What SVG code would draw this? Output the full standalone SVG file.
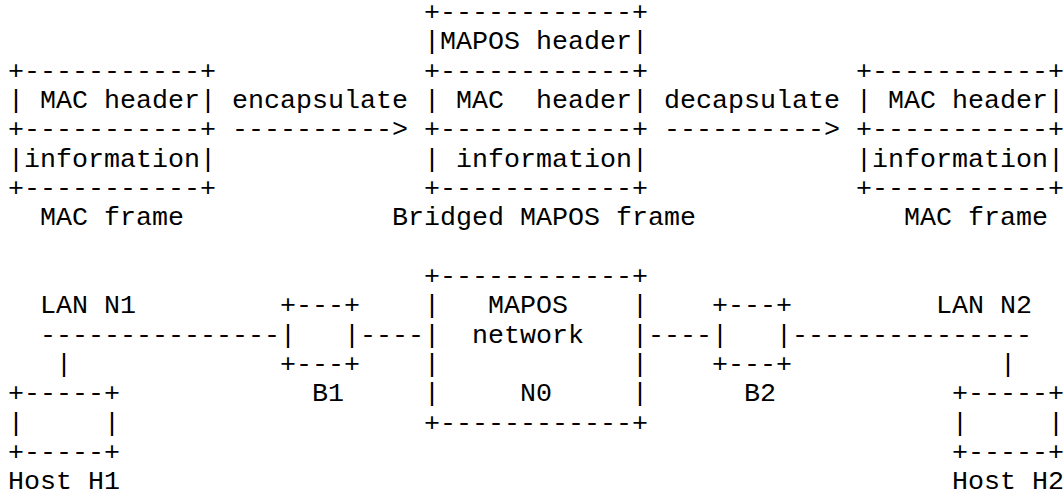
<svg xmlns="http://www.w3.org/2000/svg" width="1063" height="494" viewBox="0 0 1063 494">
<style>
text{font-family:"Liberation Mono","Courier New",monospace;font-size:26.667px;fill:#000;white-space:pre}
</style>
<rect width="1063" height="494" fill="#fff"/>
<g id="mac-frame-left">
<text x="8" y="78.67" xml:space="preserve">+-----------+</text>
<text x="8" y="108" xml:space="preserve">| MAC header|</text>
<text x="8" y="137.33" xml:space="preserve">+-----------+</text>
<text x="8" y="166.67" xml:space="preserve">|information|</text>
<text x="8" y="196" xml:space="preserve">+-----------+</text>
<text x="40" y="225.33" xml:space="preserve">MAC frame</text>
</g>
<g id="bridged-mapos-frame">
<text x="424" y="20" xml:space="preserve">+------------+</text>
<text x="424" y="49.33" xml:space="preserve">|MAPOS header|</text>
<text x="424" y="78.67" xml:space="preserve">+------------+</text>
<text x="424" y="108" xml:space="preserve">| MAC  header|</text>
<text x="424" y="137.33" xml:space="preserve">+------------+</text>
<text x="424" y="166.67" xml:space="preserve">| information|</text>
<text x="424" y="196" xml:space="preserve">+------------+</text>
<text x="392" y="225.33" xml:space="preserve">Bridged MAPOS frame</text>
</g>
<g id="mac-frame-right">
<text x="856" y="78.67" xml:space="preserve">+-----------+</text>
<text x="856" y="108" xml:space="preserve">| MAC header|</text>
<text x="856" y="137.33" xml:space="preserve">+-----------+</text>
<text x="856" y="166.67" xml:space="preserve">|information|</text>
<text x="856" y="196" xml:space="preserve">+-----------+</text>
<text x="904" y="225.33" xml:space="preserve">MAC frame</text>
</g>
<g id="lan-n1">
<text x="40" y="313.33" xml:space="preserve">LAN N1</text>
</g>
<g id="bridge-b1">
<text x="280" y="313.33" xml:space="preserve">+---+</text>
<text x="280" y="342.67" xml:space="preserve">|   |</text>
<text x="280" y="372" xml:space="preserve">+---+</text>
<text x="312" y="401.33" xml:space="preserve">B1</text>
</g>
<g id="mapos-network-n0">
<text x="424" y="284" xml:space="preserve">+------------+</text>
<text x="424" y="313.33" xml:space="preserve">|   MAPOS    |</text>
<text x="424" y="342.67" xml:space="preserve">|  network   |</text>
<text x="424" y="372" xml:space="preserve">|            |</text>
<text x="424" y="401.33" xml:space="preserve">|     N0     |</text>
<text x="424" y="430.67" xml:space="preserve">+------------+</text>
</g>
<g id="bridge-b2">
<text x="712" y="313.33" xml:space="preserve">+---+</text>
<text x="712" y="342.67" xml:space="preserve">|   |</text>
<text x="712" y="372" xml:space="preserve">+---+</text>
<text x="744" y="401.33" xml:space="preserve">B2</text>
</g>
<g id="lan-n2">
<text x="936" y="313.33" xml:space="preserve">LAN N2</text>
</g>
<g id="host-h1">
<text x="8" y="401.33" xml:space="preserve">+-----+</text>
<text x="8" y="430.67" xml:space="preserve">|     |</text>
<text x="8" y="460" xml:space="preserve">+-----+</text>
<text x="8" y="489.33" xml:space="preserve">Host H1</text>
</g>
<g id="host-h2">
<text x="952" y="401.33" xml:space="preserve">+-----+</text>
<text x="952" y="430.67" xml:space="preserve">|     |</text>
<text x="952" y="460" xml:space="preserve">+-----+</text>
<text x="952" y="489.33" xml:space="preserve">Host H2</text>
</g>
<g id="connectors">
<text x="232" y="108" xml:space="preserve">encapsulate</text>
<text x="232" y="137.33" xml:space="preserve">----------&gt;</text>
<text x="664" y="108" xml:space="preserve">decapsulate</text>
<text x="664" y="137.33" xml:space="preserve">----------&gt;</text>
<text x="40" y="342.67" xml:space="preserve">---------------</text>
<text x="56" y="372" xml:space="preserve">|</text>
<text x="360" y="342.67" xml:space="preserve">----</text>
<text x="648" y="342.67" xml:space="preserve">----</text>
<text x="792" y="342.67" xml:space="preserve">---------------</text>
<text x="1000" y="372" xml:space="preserve">|</text>
</g>
</svg>
